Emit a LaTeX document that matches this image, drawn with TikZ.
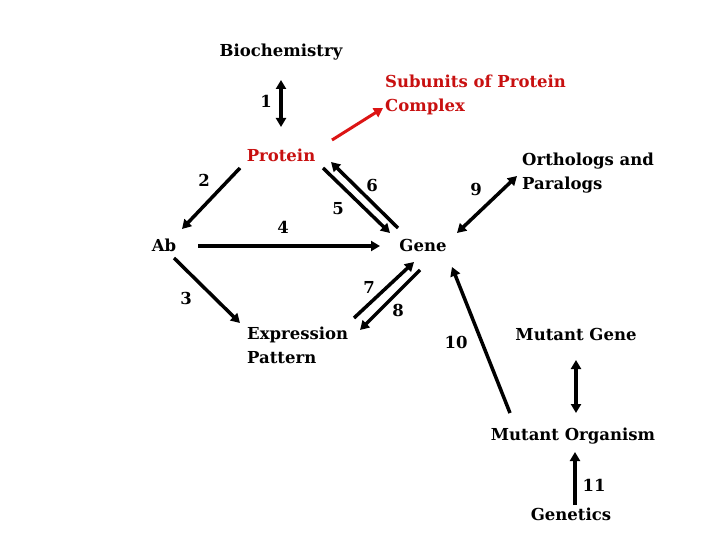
\documentclass[tikz,border=0pt]{standalone}
\usepackage{fontspec}
\setmainfont{DejaVu Serif}
\usetikzlibrary{arrows.meta}
\begin{document}
\begin{tikzpicture}[x=1pt,y=-1pt,
  lbl/.style={font=\fontsize{16.5}{24}\selectfont\bfseries, inner sep=1pt, align=left},
  red lbl/.style={lbl, text={rgb,255:red,200;green,16;blue,16}},
  arr/.style={line width=3.5pt, -{Triangle[length=9pt,width=10pt]}},
  darr/.style={line width=3.5pt, {Triangle[length=9pt,width=10pt]}-{Triangle[length=9pt,width=10pt]}}]
\useasboundingbox (0,0) rectangle (720,540);
\node[lbl] (bio) at (281,52) {Biochemistry};
\node[red lbl, anchor=west] (sub) at (384,95) {Subunits of Protein\\Complex};
\node[red lbl] (prot) at (281,155) {Protein};
\node[lbl] (ab) at (164,245) {Ab};
\node[lbl] (gene) at (423,245) {Gene};
\node[lbl, anchor=west] (orth) at (521,173) {Orthologs and\\Paralogs};
\node[lbl, anchor=west] (expr) at (246,345) {Expression\\Pattern};
\node[lbl] (mg) at (576,334) {Mutant Gene};
\node[lbl] (mo) at (573,436) {Mutant Organism};
\node[lbl] (gen) at (571,514) {Genetics};
\coordinate (c1a) at (281,80); \coordinate (c1b) at (281,127);
\coordinate (rA) at (332,140); \coordinate (rB) at (383,108);
\coordinate (c2a) at (240,168); \coordinate (c2b) at (182,229);
\coordinate (c4a) at (198,246); \coordinate (c4b) at (380,246);
\coordinate (c5a) at (323,168); \coordinate (c5b) at (390,233);
\coordinate (c6a) at (398,228); \coordinate (c6b) at (331,162);
\coordinate (c9a) at (457,233); \coordinate (c9b) at (517,176);
\coordinate (c3a) at (174,258); \coordinate (c3b) at (240,323);
\coordinate (c7a) at (354,318); \coordinate (c7b) at (414,262);
\coordinate (c8a) at (420,270); \coordinate (c8b) at (360,330);
\coordinate (c10a) at (510,413); \coordinate (c10b) at (452,267);
\coordinate (cma) at (576,360); \coordinate (cmb) at (576,413);
\coordinate (c11a) at (575,505); \coordinate (c11b) at (575,452);
\draw[darr] (c1a) -- (c1b);
\draw[arr, line width=3pt, draw={rgb,255:red,220;green,20;blue,20}] (rA) -- (rB);
\draw[arr] (c2a) -- (c2b);
\draw[arr] (c4a) -- (c4b);
\draw[arr] (c5a) -- (c5b);
\draw[arr] (c6a) -- (c6b);
\draw[darr] (c9a) -- (c9b);
\draw[arr] (c3a) -- (c3b);
\draw[arr] (c7a) -- (c7b);
\draw[arr] (c8a) -- (c8b);
\draw[arr] (c10a) -- (c10b);
\draw[darr] (cma) -- (cmb);
\draw[arr] (c11a) -- (c11b);
\node[lbl] (n1) at (266,101) {1};
\node[lbl] (n2) at (204,180) {2};
\node[lbl] (n3) at (186,298) {3};
\node[lbl] (n4) at (283,227) {4};
\node[lbl] (n5) at (338,209) {5};
\node[lbl] (n6) at (372,185) {6};
\node[lbl] (n7) at (369,287) {7};
\node[lbl] (n8) at (398,310) {8};
\node[lbl] (n9) at (476,189) {9};
\node[lbl] (n10) at (456,342) {10};
\node[lbl] (n11) at (594,485) {11};
\end{tikzpicture}
\end{document}
